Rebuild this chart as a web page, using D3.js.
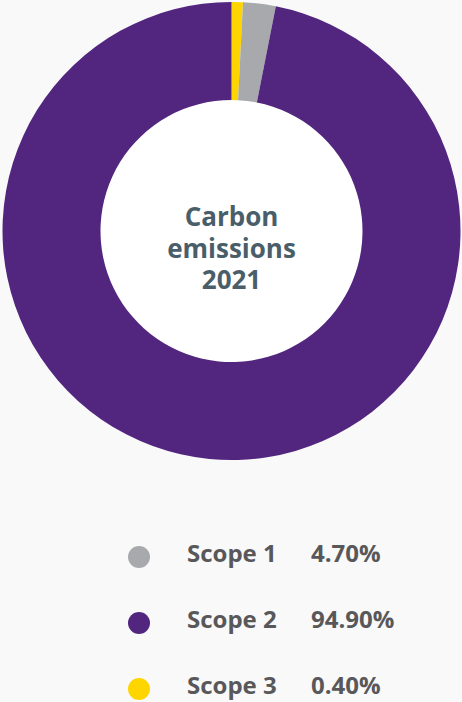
<!DOCTYPE html>
<html>
<head>
<meta charset="utf-8">
<script src="https://cdn.jsdelivr.net/npm/d3@7"></script>
<style>
  html, body { margin: 0; padding: 0; background: #f9f9f9; }
  svg { display: block; }
  text { font-family: "Open Sans", "Noto Sans", sans-serif; font-weight: bold; }
</style>
</head>
<body>
<svg width="462" height="702"></svg>
<script>
// arc shares as drawn in the ring (clockwise from 12 o'clock)
var arcNames = ["Scope 3", "Scope 1", "Scope 2"],
    arcShares = [0.8, 2.3, 96.9];

// legend rows, as printed
var legendNames = ["Scope 1", "Scope 2", "Scope 3"],
    legendLabels = ["4.70%", "94.90%", "0.40%"],
    titleLines = ["Carbon", "emissions", "2021"];

var svg = d3.select("svg"),
    cx = 231.5, cy = 231,
    outerR = 229, innerR = 131;

var color = d3.scaleOrdinal()
  .domain(["Scope 1", "Scope 2", "Scope 3"])
  .range(["#a7a9ac", "#52267f", "#ffd500"]);

var pie = d3.pie().sort(null).value(function(d) { return d.v; });
var arc = d3.arc().innerRadius(innerR).outerRadius(outerR);

var ring = svg.append("g").attr("transform", "translate(" + cx + "," + cy + ")");

ring.append("circle").attr("r", innerR).attr("fill", "#fff");

ring.selectAll("path")
  .data(pie(arcNames.map(function(n, i) { return {name: n, v: arcShares[i]}; })))
  .enter().append("path")
  .attr("d", arc)
  .attr("fill", function(d) { return color(d.data.name); });

// title in the hole
ring.selectAll(".title")
  .data(titleLines)
  .enter().append("text")
  .attr("class", "title")
  .attr("text-anchor", "middle")
  .attr("y", function(d, i) { return -5 + i * 31.5; })
  .attr("fill", "#4a5e6a")
  .style("font-size", "26px")
  .text(function(d) { return d; });

// legend
var y = d3.scalePoint().domain(legendNames).range([562, 694]);

var row = svg.selectAll(".row")
  .data(legendNames)
  .enter().append("g")
  .attr("class", "row")
  .attr("transform", function(d) { return "translate(0," + y(d) + ")"; });

row.append("circle")
  .attr("cx", 139)
  .attr("cy", -5)
  .attr("r", 11)
  .attr("fill", function(d) { return color(d); });

row.append("text")
  .attr("x", 187)
  .attr("fill", "#58585a")
  .style("font-size", "24px")
  .text(function(d) { return d; });

row.append("text")
  .attr("x", 311)
  .attr("fill", "#58585a")
  .style("font-size", "24px")
  .text(function(d, i) { return legendLabels[i]; });
</script>
</body>
</html>
